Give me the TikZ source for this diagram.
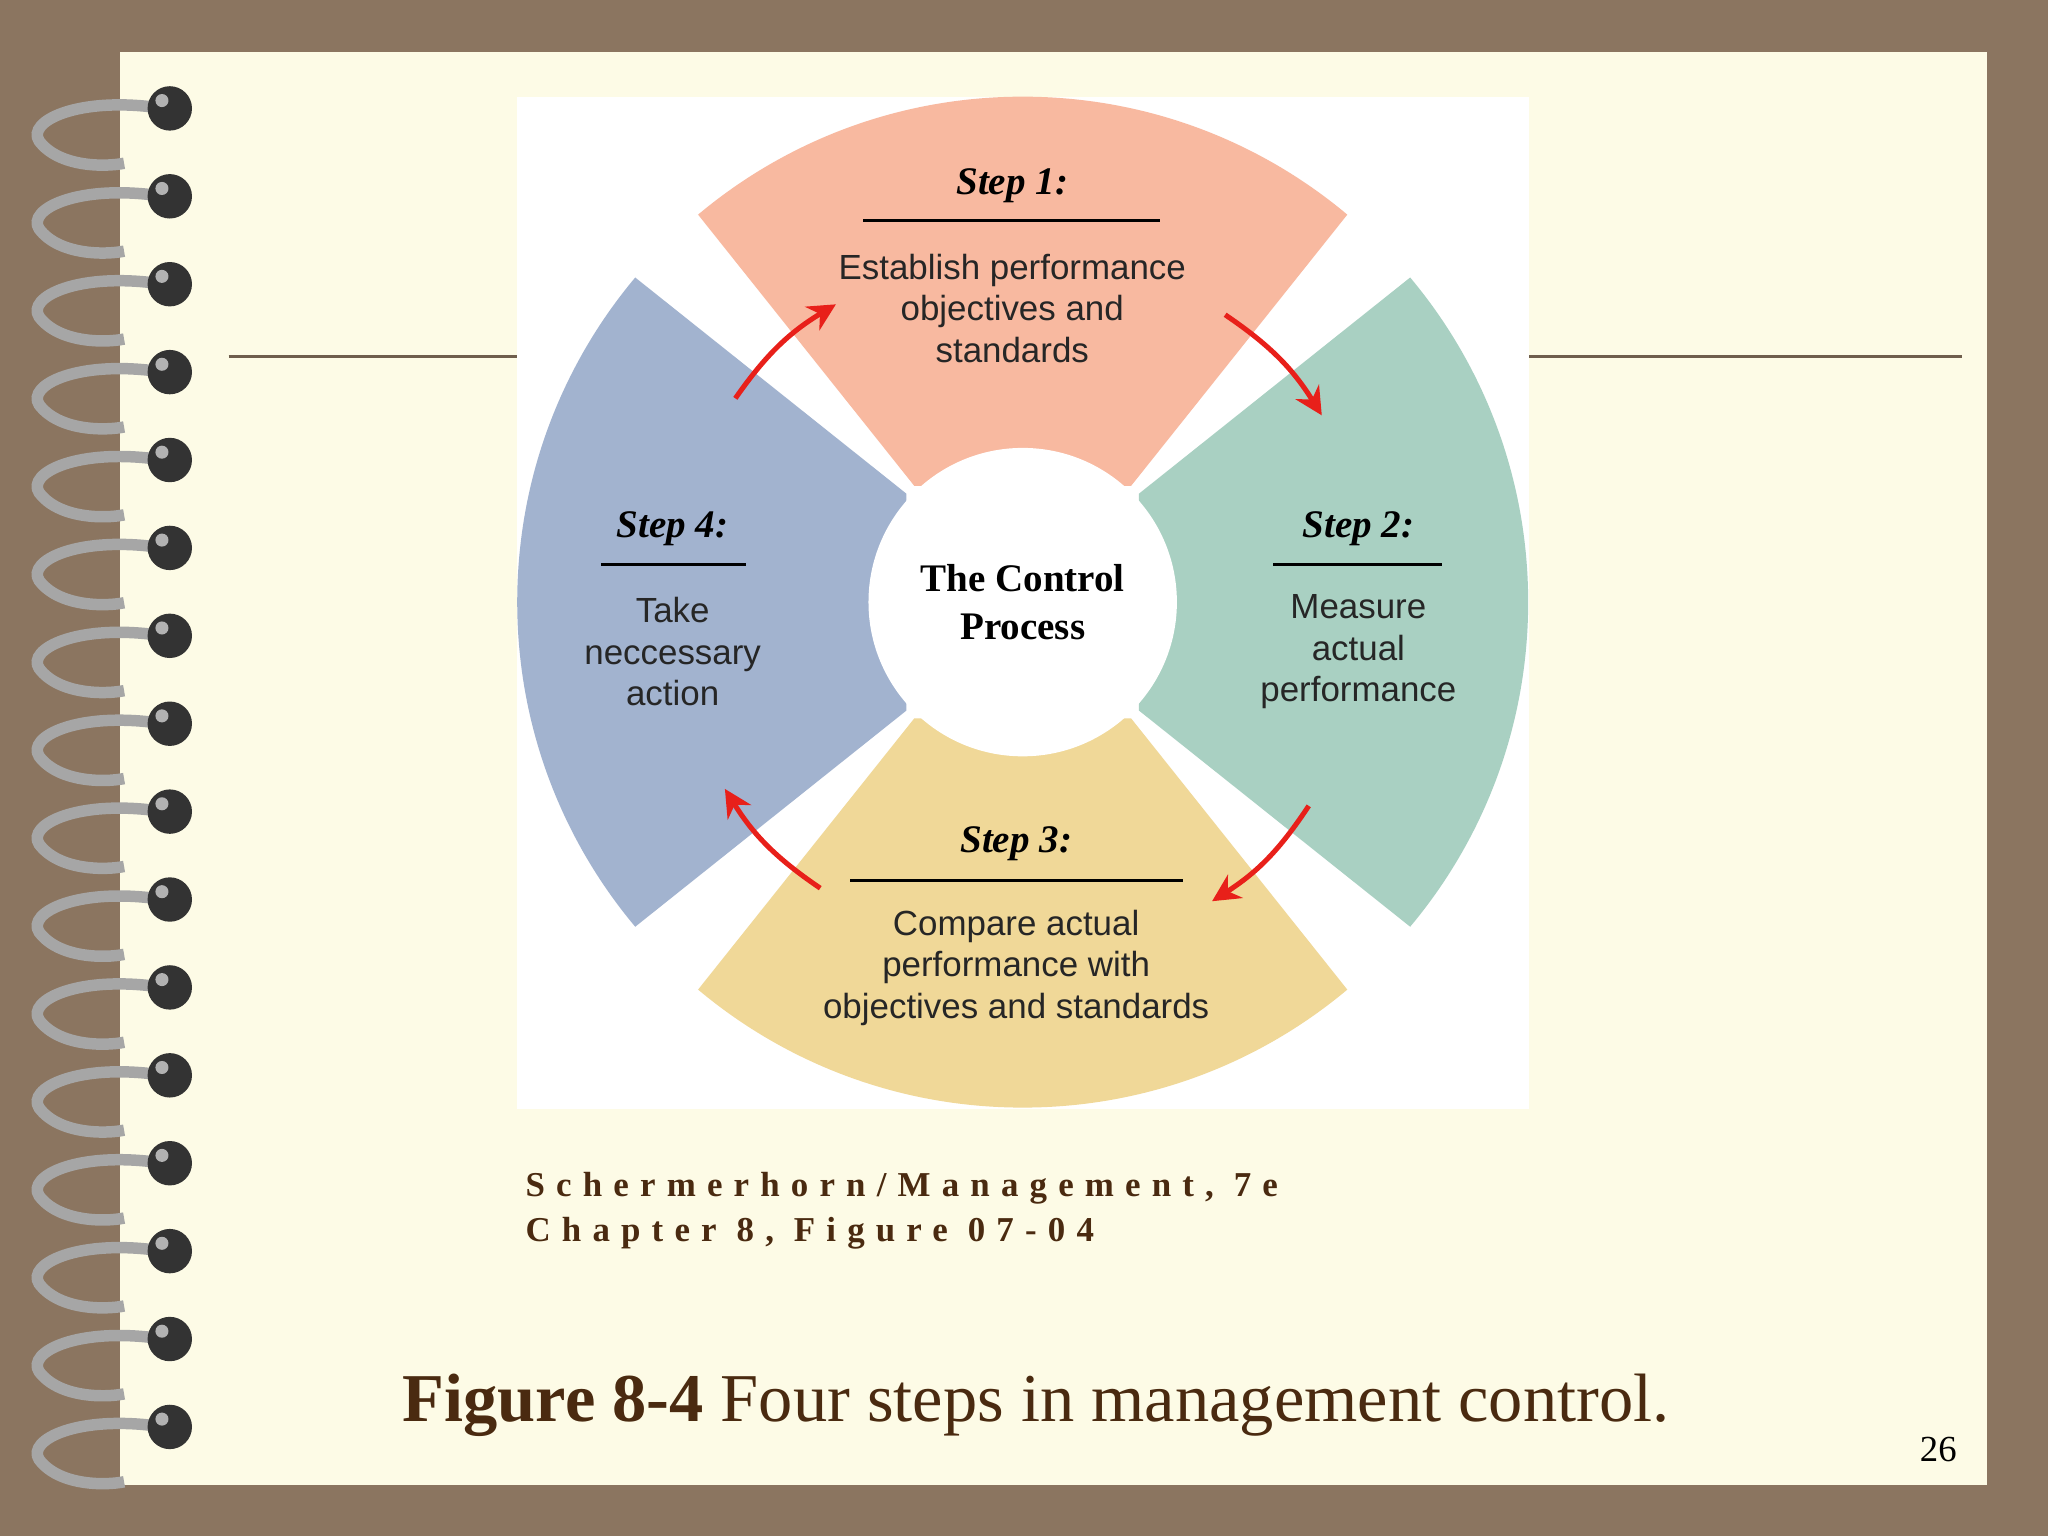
\documentclass[tikz,border=0pt]{standalone}
\usepackage{fontspec}
\usetikzlibrary{arrows.meta}
\setmainfont{Liberation Serif}
\setsansfont{Liberation Sans}
\newfontfamily\capfont[LetterSpace=32]{Liberation Serif}
\definecolor{bgbrown}{HTML}{8B7560}
\definecolor{cream}{HTML}{FDFBE6}
\definecolor{cpink}{HTML}{F8B9A0}
\definecolor{cgreen}{HTML}{A9D0C2}
\definecolor{cyel}{HTML}{F0D898}
\definecolor{cblue}{HTML}{A2B3CF}
\definecolor{dbrown}{HTML}{4A2A10}
\definecolor{ared}{HTML}{E8201A}
\tikzset{
 head/.style={font=\fontsize{8.5}{10}\selectfont\bfseries\itshape, text=black},
 body/.style={font=\sffamily\fontsize{7.6}{9}\selectfont, align=center, text=black!85},
 carrow/.style={-{Stealth[length=6pt,width=6pt]}, ared, line width=1.1pt},
}
\begin{document}
\begin{tikzpicture}[x=0.01cm,y=-0.01cm]
\useasboundingbox (0,0) rectangle (1568,1176);
\fill[bgbrown] (0,0) rectangle (1568,1176);
\fill[cream] (92,40) rectangle (1521,1137);
\draw[bgbrown!80!black, line width=0.8pt] (175,273) -- (396,273) (1171,273) -- (1502,273);
\fill[white] (396,74) rectangle (1171,849);
% rings
\foreach \i in {0,...,15}{
  \pgfmathsetmacro\yy{83+67.3*\i}
  \draw[gray!70, line width=2.5pt] (125,\yy) .. controls (60,\yy-10) and (20,\yy+10) .. (30,\yy+25) .. controls (45,\yy+45) and (80,\yy+45) .. (95,\yy+42);
  \fill[black!80] (130,\yy) circle (17);
  \fill[gray!60] (124,\yy-6) circle (5);
}
% wheel
\coordinate (c) at (783,461);
\begin{scope}
\clip (c) circle (387);
\foreach \col/\ang in {cpink/0, cblue/90, cyel/180, cgreen/270}{
  \fill[\col, shift={(c)}, rotate=\ang] (-413,-503) -- (-83,-89) -- (83,-89) -- (413,-503) -- cycle;
}
\end{scope}
\node[fill=white, circle, minimum size=2.36cm, inner sep=0] (center) at (c) {};
\node[font=\fontsize{8.5}{10.5}\selectfont\bfseries, align=center] (ct) at (783,461) {The Control\\Process};
% step 1
\node[head] (h1) at (775,142) {Step 1:};
\draw[line width=0.6pt] (661,169) -- (888,169);
\node[body] (b1) at (775,236) {Establish performance\\objectives and\\standards};
% step 2
\node[head] (h2) at (1040,405) {Step 2:};
\draw[line width=0.6pt] (975,432) -- (1104,432);
\node[body] (b2) at (1040,499) {Measure\\actual\\performance};
% step 3
\node[head] (h3) at (778,646) {Step 3:};
\draw[line width=0.6pt] (651,674) -- (906,674);
\node[body] (b3) at (778,741) {Compare actual\\performance with\\objectives and standards};
% step 4
\node[head] (h4) at (515,405) {Step 4:};
\draw[line width=0.6pt] (460,432) -- (571,432);
\node[body] (b4) at (515,499) {Take\\neccessary\\action};
% arrows
\coordinate (a1s) at (563,305); \coordinate (a1e) at (640,233);
\coordinate (a2s) at (938,241); \coordinate (a2e) at (1012,318);
\coordinate (a3s) at (1002,617); \coordinate (a3e) at (928,690);
\coordinate (a4s) at (628,680); \coordinate (a4e) at (555,604);
\draw[carrow] (a1s) to[bend left=12] (a1e);
\draw[carrow] (a2s) to[bend left=12] (a2e);
\draw[carrow] (a3s) to[bend left=12] (a3e);
\draw[carrow] (a4s) to[bend left=12] (a4e);
% caption
\node[anchor=west, text=dbrown, font=\capfont\fontsize{7.6}{9.6}\selectfont\bfseries, align=left] (src) at (390,927) {Schermerhorn/Management, 7e\\Chapter 8, Figure 07-04};
\node[anchor=west, text=dbrown, font=\fontsize{14.9}{17}\selectfont] (fig) at (296,1076) {\textbf{Figure 8-4} Four steps in management control.};
\node[text=black, font=\fontsize{8}{9}\selectfont] (pg) at (1484,1110) {26};
\end{tikzpicture}
\end{document}
